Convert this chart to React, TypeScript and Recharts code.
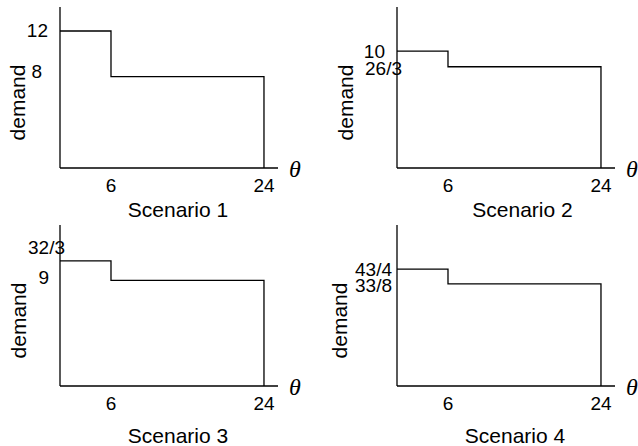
import React from "react";
import { LineChart, Line, XAxis, YAxis } from "recharts";

// breakpoints of the demand profile (hours)
const hours = [0, 6, 24, 24];
const xTicks = [6, 24];

const demand1 = [12, 8, 8, 0];
const demand2 = [10, 26 / 3, 26 / 3, 0];
const demand3 = [32 / 3, 9, 9, 0];
// lower level is labelled "33/8" but drawn at roughly 9.4
const demand4 = [43 / 4, 9.4, 9.4, 0];

const yLabels1 = ["12", "8"];
const yLabels2 = ["10", "26/3"];
const yLabels3 = ["32/3", "9"];
const yLabels4 = ["43/4", "33/8"];

const titles = ["Scenario 1", "Scenario 2", "Scenario 3", "Scenario 4"];

const SANS = "'Liberation Sans', Arial, sans-serif";
const SERIF = "'Liberation Serif', 'Times New Roman', serif";

type PanelProps = {
  title: string;
  demand: number[];
  yLabels: string[];
  yMax: number;
  left: number;
  top: number;
  margin: { top: number; right: number; bottom: number; left: number };
  demandDx: number;
  titleDx: number;
  titleDy: number;
  // [gap from axis, vertical shift] for each y tick label
  nudge: number[][];
};

function Panel(p: PanelProps) {
  const rows = hours.map((t, i) => ({ t, demand: p.demand[i] }));
  const levels = p.demand.slice(0, 2);

  const xLabel = (props: any) => {
    const vb = props.viewBox;
    return (
      <g>
        <text
          x={vb.x + vb.width + 11}
          y={vb.y + 9}
          fontFamily={SERIF}
          fontStyle="italic"
          fontSize={24}
          fill="#000"
        >
          θ
        </text>
        <text
          x={vb.x + vb.width / 2 + p.titleDx}
          y={vb.y + p.titleDy}
          textAnchor="middle"
          fontFamily={SANS}
          fontSize={21}
          fill="#000"
        >
          {p.title}
        </text>
      </g>
    );
  };

  const yLabel = (props: any) => {
    const vb = props.viewBox;
    const cx = vb.x + vb.width - p.demandDx;
    const cy = vb.y + vb.height / 2 + 15;
    return (
      <text
        x={cx}
        y={cy}
        transform={`rotate(-90 ${cx} ${cy})`}
        textAnchor="middle"
        dominantBaseline="central"
        fontFamily={SANS}
        fontSize={21}
        fill="#000"
      >
        demand
      </text>
    );
  };

  const yTick = (props: any) => {
    const i = levels.indexOf(props.payload.value);
    const [gap, dy] = p.nudge[i] ?? [10, 0];
    return (
      <text
        x={props.x - gap}
        y={props.y + dy}
        textAnchor="end"
        dominantBaseline="central"
        fontFamily={SANS}
        fontSize={19}
        fill="#000"
      >
        {p.yLabels[i] ?? ""}
      </text>
    );
  };

  return (
    <div style={{ position: "absolute", left: p.left, top: p.top }}>
      <LineChart width={319} height={223} data={rows} margin={p.margin}>
        <XAxis
          type="number"
          dataKey="t"
          domain={[0, 25.65]}
          ticks={xTicks}
          interval={0}
          height={30}
          tickLine={false}
          tickSize={0}
          tickMargin={11}
          axisLine={{ stroke: "#000", strokeWidth: 1.3 }}
          tick={{ fill: "#000", fontSize: 19, fontFamily: SANS }}
          label={xLabel}
        />
        <YAxis
          type="number"
          domain={[0, p.yMax]}
          ticks={levels}
          interval={0}
          width={40}
          tickLine={false}
          tickSize={0}
          tickMargin={0}
          axisLine={{ stroke: "#000", strokeWidth: 1.3 }}
          tick={yTick}
          label={yLabel}
        />
        <Line
          type="stepAfter"
          dataKey="demand"
          stroke="#000"
          strokeWidth={1.3}
          dot={false}
          activeDot={false}
          isAnimationActive={false}
        />
      </LineChart>
    </div>
  );
}

export default function App() {
  const topMargin = { top: 7, bottom: 25 };
  const bottomMargin = { top: 2, bottom: 30 };
  return (
    <div
      style={{
        position: "absolute",
        left: 0,
        top: 0,
        width: 638,
        height: 446,
        background: "#fff",
        overflow: "hidden",
      }}
    >
      <Panel
        title={titles[0]}
        demand={demand1}
        yLabels={yLabels1}
        yMax={14.1}
        left={0}
        top={0}
        margin={{ ...topMargin, left: 20, right: 41 }}
        demandDx={42.5}
        titleDx={9}
        titleDy={49}
        nudge={[
          [12, 0],
          [18, -5],
        ]}
      />
      <Panel
        title={titles[1]}
        demand={demand2}
        yLabels={yLabels2}
        yMax={13.78}
        left={319}
        top={0}
        margin={{ ...topMargin, left: 38, right: 23 }}
        demandDx={52}
        titleDx={16.5}
        titleDy={49}
        nudge={[
          [12, 0],
          [-5, 2],
        ]}
      />
      <Panel
        title={titles[2]}
        demand={demand3}
        yLabels={yLabels3}
        yMax={13.73}
        left={0}
        top={223}
        margin={{ ...bottomMargin, left: 20, right: 41 }}
        demandDx={41.5}
        titleDx={9}
        titleDy={57}
        nudge={[
          [-5, -13],
          [11, -3],
        ]}
      />
      <Panel
        title={titles[3]}
        demand={demand4}
        yLabels={yLabels4}
        yMax={14.81}
        left={319}
        top={223}
        margin={{ ...bottomMargin, left: 38, right: 23 }}
        demandDx={58}
        titleDx={9}
        titleDy={57}
        nudge={[
          [5, 0],
          [5, 2],
        ]}
      />
    </div>
  );
}
